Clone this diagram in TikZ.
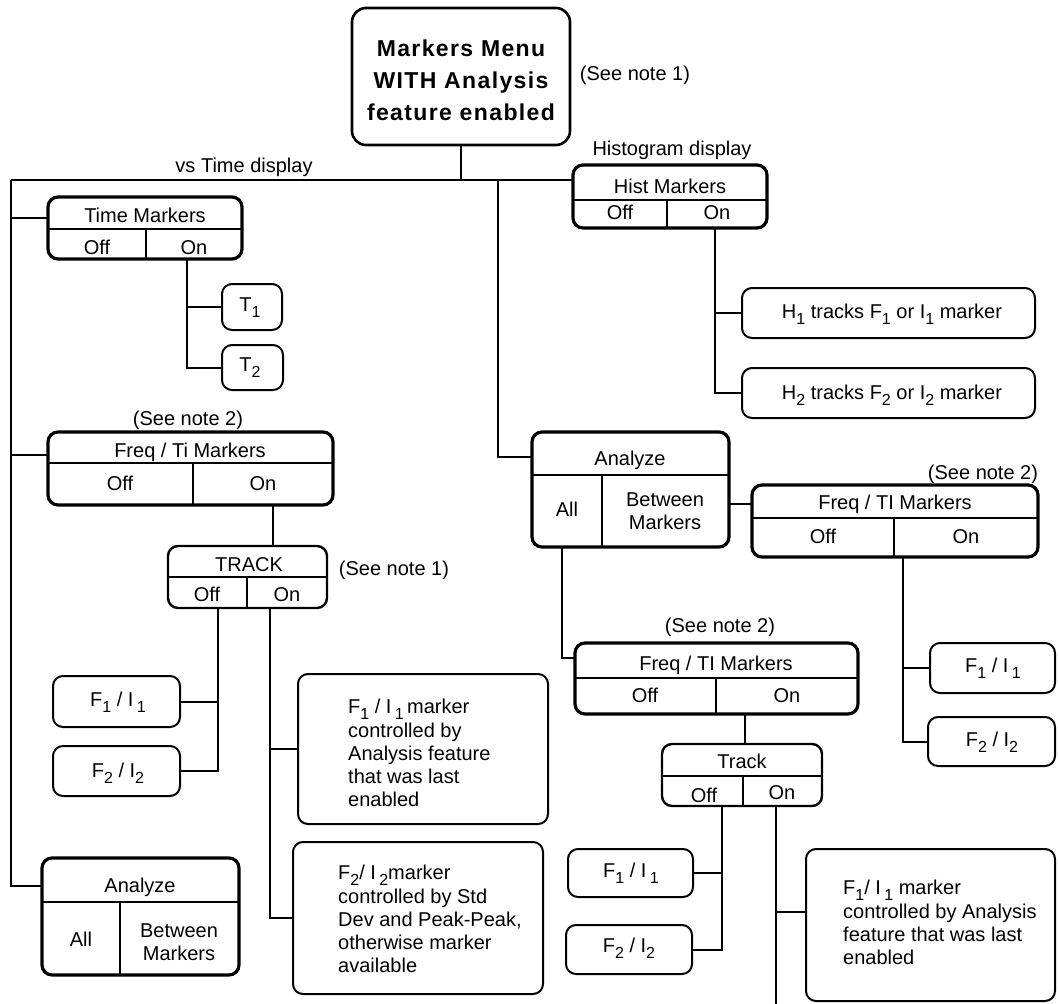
\documentclass[tikz,border=0pt]{standalone}
\usepackage{fontspec}
\setmainfont{Liberation Sans}
\usetikzlibrary{fit}
\newcommand\lowsub[1]{\raisebox{-0.3em}{\fontsize{16}{16}\selectfont #1}}
\begin{document}
\begin{tikzpicture}[x=1pt,y=-1pt,
  menu/.style={draw, line width=3.2pt, rounded corners=10pt, inner sep=0pt, outer sep=0pt},
  smenu/.style={draw, line width=2.4pt, rounded corners=10pt, inner sep=0pt, outer sep=0pt},
  leaf/.style={draw, line width=2pt, rounded corners=10pt, inner sep=0pt, outer sep=0pt},
  topbox/.style={draw, line width=2.6pt, rounded corners=14pt, inner sep=0pt, outer sep=0pt},
  conn/.style={line width=2pt},
  divline/.style={line width=1.8pt},
  lbl/.style={font=\fontsize{20}{24}\selectfont, inner sep=0pt, text height=14.3pt, text depth=0pt},
  mlbl/.style={font=\fontsize{20}{23}\selectfont, inner sep=0pt, align=center},
  para/.style={font=\fontsize{20}{23.3}\selectfont, inner sep=0pt, align=left, anchor=north west},
  ttl/.style={font=\fontsize{23}{32}\selectfont\bfseries\addfontfeatures{LetterSpace=6}, inner sep=0pt, align=center}
]
\useasboundingbox[fill=white] (0,0) rectangle (1058,1004);

% ---------- boxes ----------
\node[topbox, fit={(352,8) (570,145)}] (menu) {};
\node[menu, fit={(48,197) (242,259)}] (tm) {};
\node[menu, fit={(573,165) (767,228)}] (hist) {};
\node[menu, fit={(48,432) (333,505)}] (fq1) {};
\node[smenu, fit={(168,546) (327,608)}] (trk) {};
\node[menu, fit={(532,432) (729,547)}] (an2) {};
\node[menu, fit={(752,485) (1038,557)}] (fq2) {};
\node[menu, fit={(575,643) (858,714)}] (fq3) {};
\node[smenu, fit={(662,744) (822,806)}] (trk2) {};
\node[menu, fit={(42,858) (239,975)}] (an1) {};

\node[leaf, fit={(222,284) (282,330)}] (t1) {};
\node[leaf, fit={(222,345) (283,390)}] (t2) {};
\node[leaf, fit={(742,288) (1035,338)}] (h1) {};
\node[leaf, fit={(742,368) (1035,418)}] (h2) {};
\node[leaf, fit={(53,676) (180,727)}] (f1a) {};
\node[leaf, fit={(53,746) (180,796)}] (f2a) {};
\node[leaf, fit={(298,674) (548,824)}] (bb1) {};
\node[leaf, fit={(293,842) (543,994)}] (bb2) {};
\node[leaf, fit={(930,643) (1055,693)}] (f1c) {};
\node[leaf, fit={(928,717) (1055,766)}] (f2c) {};
\node[leaf, fit={(568,849) (693,897)}] (f1d) {};
\node[leaf, fit={(566,925) (692,974)}] (f2d) {};
\node[leaf, fit={(806,849) (1055,1001)}] (bb3) {};

% ---------- dividers ----------
\draw[divline] (tm.west |- 0,229) -- (tm.east |- 0,229);
\draw[divline] (146,229) -- (tm.south -| 146,0);
\draw[divline] (hist.west |- 0,200) -- (hist.east |- 0,200);
\draw[divline] (667,200) -- (hist.south -| 667,0);
\draw[divline] (fq1.west |- 0,463) -- (fq1.east |- 0,463);
\draw[divline] (193,463) -- (fq1.south -| 193,0);
\draw[divline] (trk.west |- 0,577) -- (trk.east |- 0,577);
\draw[divline] (247,577) -- (trk.south -| 247,0);
\draw[divline] (an2.west |- 0,475) -- (an2.east |- 0,475);
\draw[divline] (602,475) -- (an2.south -| 602,0);
\draw[divline] (fq2.west |- 0,518) -- (fq2.east |- 0,518);
\draw[divline] (894,518) -- (fq2.south -| 894,0);
\draw[divline] (fq3.west |- 0,678) -- (fq3.east |- 0,678);
\draw[divline] (716,678) -- (fq3.south -| 716,0);
\draw[divline] (trk2.west |- 0,776) -- (trk2.east |- 0,776);
\draw[divline] (743,776) -- (trk2.south -| 743,0);
\draw[divline] (an1.west |- 0,902) -- (an1.east |- 0,902);
\draw[divline] (120,902) -- (an1.south -| 120,0);

% ---------- connectors ----------
\coordinate (trL) at (11,180);
\coordinate (trM) at (498,180);
\coordinate (lvB) at (11,886);
\coordinate (onEnd) at (776,1004);
\draw[conn] (menu.south) -- (menu.south |- trL);
\draw[conn] (trL) -- (hist.west |- trL);
\draw[conn] (trL) -- (lvB) -- (an1.west |- lvB);
\draw[conn] (trL |- 0,218) -- (tm.west |- 0,218);
\draw[conn] (trL |- 0,455) -- (fq1.west |- 0,455);
\draw[conn] (trM) -- (trM |- 0,457) -- (an2.west |- 0,457);
\draw[conn] (tm.south -| 187,0) |- (t2.west);
\draw[conn] (t1.west) -- (t1.west -| 187,0);
\draw[conn] (hist.south -| 715,0) |- (h2.west);
\draw[conn] (h1.west) -- (h1.west -| 715,0);
\draw[conn] (fq1.south -| 273,0) -- (trk.north -| 273,0);
\draw[conn] (trk.south -| 218,0) |- (f2a.east);
\draw[conn] (f1a.east) -- (f1a.east -| 218,0);
\draw[conn] (trk.south -| 270,0) |- (bb2.west);
\draw[conn] (bb1.west) -- (bb1.west -| 270,0);
\draw[conn] (an2.east |- 0,504) -- (fq2.west |- 0,504);
\draw[conn] (an2.south -| 562,0) |- (fq3.west |- 0,658);
\draw[conn] (fq2.south -| 903,0) |- (f2c.west);
\draw[conn] (f1c.west) -- (f1c.west -| 903,0);
\draw[conn] (fq3.south -| 745,0) -- (trk2.north -| 745,0);
\draw[conn] (trk2.south -| 722,0) |- (f2d.east);
\draw[conn] (f1d.east) -- (f1d.east -| 722,0);
\draw[conn] (trk2.south -| 776,0) -- (onEnd);
\draw[conn] (bb3.west |- 0,912) -- (onEnd |- 0,912);

% ---------- texts ----------
\node[ttl] (menut) at (461,80) {Markers Menu\\WITH Analysis\\feature enabled};
\node[lbl] (note1a) at (635,73) {(See note 1)};
\node[lbl] (vst) at (244,165) {vs Time display};
\node[lbl] (hgd) at (672,148) {Histogram display};

\node[lbl] (tmh) at (145,215) {Time Markers};
\node[lbl] (tmoff) at (97,247) {Off};
\node[lbl] (tmon) at (194,247) {On};
\node[lbl] (t1t) at (250,304) {T\lowsub{1}};
\node[lbl] (t2t) at (250,364) {T\lowsub{2}};

\node[lbl] (hh) at (670,186) {Hist Markers};
\node[lbl] (hoff) at (620,212) {Off};
\node[lbl] (hon) at (717,212) {On};
\node[lbl] (h1t) at (892,311) {H\lowsub{1} tracks F\lowsub{1} or I\lowsub{1} marker};
\node[lbl] (h2t) at (892,392) {H\lowsub{2} tracks F\lowsub{2} or I\lowsub{2} marker};

\node[lbl] (note2a) at (188,418) {(See note 2)};
\node[lbl] (fq1h) at (190,450) {Freq / Ti Markers};
\node[lbl] (fq1off) at (120,483) {Off};
\node[lbl] (fq1on) at (263,483) {On};
\node[lbl] (trkh) at (249,564) {TRACK};
\node[lbl] (trkoff) at (207,594) {Off};
\node[lbl] (trkon) at (287,594) {On};
\node[lbl] (note1b) at (394,568) {(See note 1)};
\node[lbl] (f1at) at (118,699) {F\lowsub{1} / I\,\lowsub{1}};
\node[lbl] (f2at) at (118,770) {F\lowsub{2} / I\lowsub{2}};
\node[para] (bb1t) at (348,699) {F\lowsub{1} / I\,\lowsub{1}\,marker\\controlled by\\Analysis feature\\that was last\\enabled};
\node[para] (bb2t) at (338,865) {F\lowsub{2}/ I\,\lowsub{2}marker\\controlled by Std\\Dev and Peak-Peak,\\otherwise marker\\available};
\node[lbl] (an1h) at (140,885) {Analyze};
\node[lbl] (an1all) at (81,939) {All};
\node[mlbl] (an1bm) at (179,942) {Between\\Markers};

\node[lbl] (an2h) at (630,458) {Analyze};
\node[lbl] (an2all) at (567,509) {All};
\node[mlbl] (an2bm) at (665,511) {Between\\Markers};
\node[lbl] (note2b) at (983,472) {(See note 2)};
\node[lbl] (fq2h) at (895,502) {Freq / TI Markers};
\node[lbl] (fq2off) at (823,536) {Off};
\node[lbl] (fq2on) at (966,536) {On};
\node[lbl] (f1ct) at (993,665) {F\lowsub{1} / I\,\lowsub{1}};
\node[lbl] (f2ct) at (992,739) {F\lowsub{2} / I\lowsub{2}};

\node[lbl] (note2c) at (720,625) {(See note 2)};
\node[lbl] (fq3h) at (716,663) {Freq / TI Markers};
\node[lbl] (fq3off) at (645,695) {Off};
\node[lbl] (fq3on) at (787,695) {On};
\node[lbl] (trk2h) at (742,761) {Track};
\node[lbl] (trk2off) at (704,795) {Off};
\node[lbl] (trk2on) at (782,792) {On};
\node[lbl] (f1dt) at (631,870) {F\lowsub{1} / I\,\lowsub{1}};
\node[lbl] (f2dt) at (629,945) {F\lowsub{2} / I\lowsub{2}};
\node[para] (bb3t) at (843,880) {F\lowsub{1}/ I\,\lowsub{1} marker\\controlled by Analysis\\feature that was last\\enabled};
\end{tikzpicture}
\end{document}
